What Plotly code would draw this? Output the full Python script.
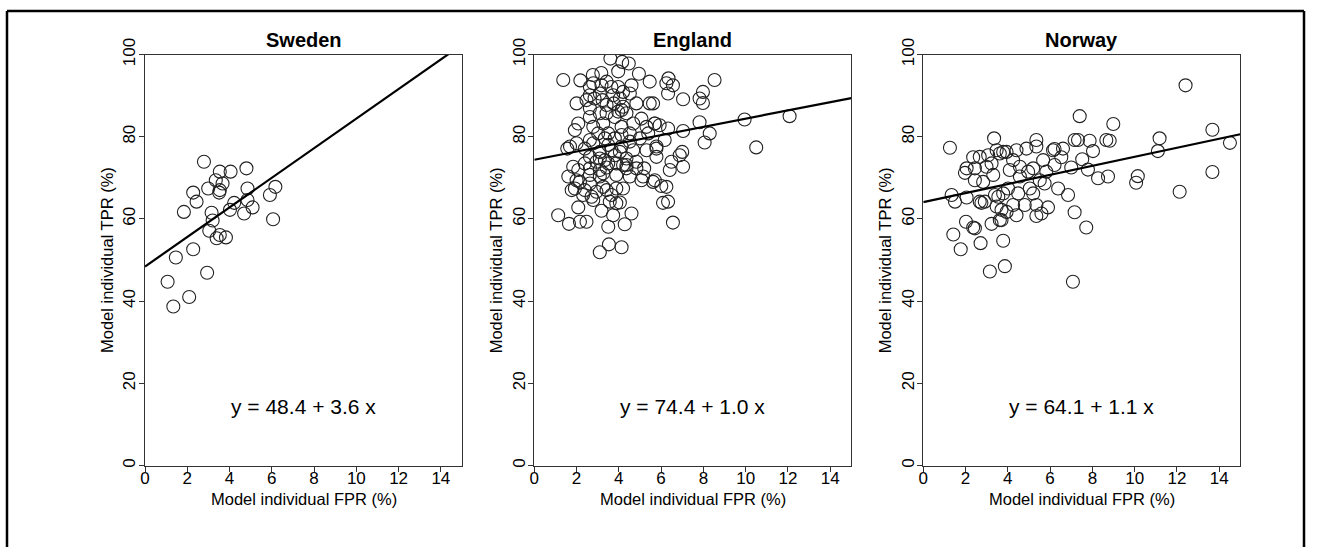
import plotly.graph_objects as go

W, H = 1319, 547

countries = ["Sweden", "England", "Norway"]
intercepts = [48.4, 74.4, 64.1]
slopes = [3.6, 1.0, 1.1]
equations = ["y = 48.4 + 3.6 x", "y = 74.4 + 1.0 x", "y = 64.1 + 1.1 x"]
x_ticks = [0, 2, 4, 6, 8, 10, 12, 14]
y_ticks = [0, 20, 40, 60, 80, 100]

sweden_fpr = [2.79, 3.54, 4.05, 4.80, 3.35, 3.67, 2.99, 3.54, 3.51, 2.28, 2.44, 4.85, 6.17, 5.91,
              4.85, 4.22, 4.02, 4.69, 5.09, 1.84, 3.15, 3.20, 6.06, 3.04, 3.39, 3.54, 3.83, 2.28,
              1.46, 2.94, 1.07, 2.09, 1.34]
sweden_tpr = [73.9, 71.5, 71.5, 72.3, 69.4, 68.6, 67.4, 67.0, 66.4, 66.4, 64.2, 67.4, 67.8, 65.8,
              64.6, 63.9, 62.2, 61.3, 62.8, 61.7, 61.5, 59.6, 59.9, 57.1, 55.3, 56.1, 55.5, 52.6,
              50.6, 46.9, 44.7, 41.0, 38.7]

england_fpr = [1.13, 1.64, 2.16, 2.47, 2.08, 3.10, 3.53, 4.13, 3.50, 4.28, 3.73, 4.60, 3.18, 4.05,
               3.65, 2.71, 1.92, 1.61, 2.16, 2.63, 3.26, 4.20, 5.07, 5.62, 2.08, 2.63, 3.10, 3.42,
               4.36, 4.83, 5.20, 1.56, 1.69, 2.39, 2.79, 3.10, 3.50, 3.02, 3.50, 3.81, 4.13, 4.52,
               5.00, 5.39, 5.70, 5.07, 1.92, 2.08, 2.63, 3.42, 3.97, 4.20, 2.00, 2.47, 2.85, 3.23,
               3.76, 4.83, 5.46, 2.63, 3.18, 3.65, 4.60, 5.46, 1.37, 2.63, 3.34, 3.81, 4.36, 4.83,
               3.50, 2.94, 4.05, 4.68, 5.31, 5.78, 2.39, 1.84, 3.10, 3.88, 4.52, 5.15, 4.20,
               8.53, 6.25, 6.56, 6.33, 7.04, 7.98, 7.82, 7.98, 5.62, 7.82, 8.30, 8.06, 9.95, 12.08,
               10.50, 7.04, 6.33, 5.93, 5.70, 6.17, 7.00, 6.88, 5.78, 5.78, 6.49, 7.04, 6.41, 5.70,
               6.01, 6.25, 6.09, 6.33, 6.56,
               3.60, 4.16, 4.47, 2.18, 2.77, 3.17, 3.97, 4.95, 6.35,
               2.79, 3.42, 3.97, 4.20, 3.10, 3.73, 2.63, 4.52, 4.05, 3.42, 4.13, 4.36, 2.63, 3.10,
               3.81, 3.26, 2.79, 4.13, 4.68, 5.31, 4.52, 3.34, 2.63, 2.00, 4.13, 3.65, 3.10, 3.88,
               4.36, 3.26, 2.63, 2.00, 1.77, 2.39, 2.94, 3.42, 3.88, 3.57, 3.88, 2.79, 2.31]
england_tpr = [60.9, 58.8, 59.3, 59.3, 62.8, 51.9, 53.8, 53.1, 58.1, 58.7, 60.9, 61.3, 62.0, 64.0,
               65.8, 65.4, 67.4, 70.3, 69.0, 68.6, 67.8, 67.4, 69.4, 69.0, 71.9, 72.3, 71.9, 72.5,
               72.3, 72.3, 72.3, 77.1, 77.6, 77.1, 78.4, 76.3, 78.0, 80.8, 80.8, 79.6, 80.4, 80.8,
               79.6, 80.8, 83.2, 84.4, 81.6, 83.2, 84.8, 85.7, 86.1, 87.3, 88.1, 88.9, 89.3, 88.9,
               88.1, 88.1, 88.1, 92.1, 92.5, 92.1, 92.5, 93.4, 93.8, 75.1, 74.3, 75.5, 74.7, 73.9,
               73.5, 73.9, 76.3, 76.7, 76.7, 77.6, 73.5, 72.7, 70.3, 70.7, 70.3, 70.3, 73.1,
               93.8, 93.0, 92.5, 90.5, 89.1, 90.9, 89.3, 88.2, 88.1, 83.5, 80.8, 78.6, 84.2, 85.0,
               77.4, 81.4, 82.0, 82.8, 83.2, 79.2, 76.3, 75.5, 77.1, 75.1, 73.9, 72.7, 71.9, 69.4,
               68.0, 67.8, 63.9, 64.2, 59.1,
               99.0, 98.2, 97.8, 93.7, 95.0, 95.5, 95.9, 95.3, 94.2,
               93.0, 93.4, 92.1, 90.9, 90.5, 90.1, 90.1, 90.5, 89.3, 87.7, 86.5, 85.7, 86.9, 85.7,
               84.8, 83.2, 82.4, 82.4, 83.2, 82.4, 78.8, 79.6, 79.2, 78.4, 77.6, 76.7, 74.7, 73.5,
               73.1, 71.1, 70.7, 69.4, 67.0, 67.0, 66.6, 67.0, 67.4, 64.2, 63.8, 64.6, 65.8]

norway_fpr = [1.26, 3.35, 1.34, 1.50, 2.05, 1.42, 1.77, 2.02, 2.36, 2.44, 2.71, 3.15, 3.23, 3.86,
              3.78, 3.62, 2.36, 2.67, 3.07, 2.05, 1.97, 2.44, 2.99, 2.44, 2.83, 3.31, 3.23, 3.62,
              3.78, 3.47, 3.55, 3.39, 2.91, 2.67, 2.75, 3.70, 3.47,
              7.40, 8.99, 11.18, 11.10, 10.15, 10.07, 7.16, 7.32, 7.87, 8.66, 8.82, 8.03, 7.52,
              7.79, 7.00, 6.53, 6.21, 6.61, 6.14, 8.27, 8.74, 6.38, 6.85, 7.16, 7.71, 7.08,
              5.35, 5.35, 4.88, 4.41, 3.94, 5.67, 5.20, 4.57, 4.25, 4.09, 4.57, 4.96, 5.82, 6.21,
              5.51, 5.04, 4.49, 4.01, 3.78, 5.20, 5.74, 5.35, 5.90, 4.80, 4.25, 3.94, 3.70, 4.41,
              5.35, 5.59,
              12.41, 13.68, 13.68, 14.51, 12.13]
norway_tpr = [77.3, 79.6, 65.8, 64.2, 65.2, 56.2, 52.6, 59.3, 57.9, 57.7, 54.1, 47.2, 58.8, 48.5,
              54.7, 59.7, 75.0, 75.1, 75.5, 72.3, 71.2, 72.3, 72.7, 69.4, 69.0, 70.7, 73.5, 75.9,
              76.3, 76.7, 65.4, 65.8, 64.2, 64.2, 63.9, 62.2, 63.0,
              85.0, 83.1, 79.6, 76.5, 70.4, 68.8, 79.2, 79.2, 79.0, 79.2, 79.0, 76.5, 74.5,
              72.0, 72.5, 75.0, 77.0, 77.1, 76.7, 69.9, 70.3, 67.4, 65.8, 61.6, 57.9, 44.7,
              79.2, 77.6, 77.1, 76.7, 76.3, 74.3, 72.3, 72.7, 74.3, 71.9, 70.3, 71.5, 71.5, 73.1,
              69.4, 67.4, 66.2, 67.4, 66.2, 66.2, 68.6, 63.4, 62.8, 63.4, 63.4, 61.7, 59.7, 60.9,
              60.7, 61.3,
              92.5, 81.7, 71.4, 78.5, 66.6]

fpr_data = [sweden_fpr, england_fpr, norway_fpr]
tpr_data = [sweden_tpr, england_tpr, norway_tpr]

# panel pixel geometry
panel_left = [145.0, 534.3, 923.3]
panel_width = 317.0
plot_top, plot_bottom = 54.5, 465.5
line_x = [0, 15]

FONT = "Liberation Sans, Arial, Helvetica, sans-serif"
fig = go.Figure()
layout = dict(width=W, height=H, margin=dict(l=0, r=0, t=0, b=0, autoexpand=False),
              paper_bgcolor="white", plot_bgcolor="white", showlegend=False,
              font=dict(family=FONT, color="black"))
annotations = []
for i in range(3):
    xa = "xaxis" if i == 0 else f"xaxis{i+1}"
    ya = "yaxis" if i == 0 else f"yaxis{i+1}"
    xr = "x" if i == 0 else f"x{i+1}"
    yr = "y" if i == 0 else f"y{i+1}"
    x0 = panel_left[i] / W
    x1 = (panel_left[i] + panel_width) / W
    layout[xa] = dict(domain=[x0, x1], range=[0, 15], anchor=yr, tickvals=x_ticks,
                      showline=True, mirror=True, linecolor="#333", linewidth=1,
                      ticks="outside", ticklen=5, tickcolor="#333", showgrid=False, zeroline=False,
                      tickfont=dict(size=17), automargin=False, ticklabelstandoff=-8)
    layout[ya] = dict(domain=[1 - plot_bottom / H, 1 - plot_top / H], range=[0, 100], anchor=xr,
                      tickvals=y_ticks, tickangle=-90,
                      showline=True, mirror=True, linecolor="#333", linewidth=1,
                      ticks="outside", ticklen=5, tickcolor="#333", showgrid=False, zeroline=False,
                      tickfont=dict(size=17), automargin=False, ticklabelstandoff=-3)
    fig.add_trace(go.Scatter(x=fpr_data[i], y=tpr_data[i], mode="markers", xaxis=xr, yaxis=yr,
                             marker=dict(symbol="circle-open", size=13, color="#222",
                                         line=dict(width=1.1))))
    fig.add_trace(go.Scatter(x=line_x, y=[intercepts[i] + slopes[i] * v for v in line_x],
                             mode="lines", xaxis=xr, yaxis=yr,
                             line=dict(color="black", width=2.2)))
    annotations.append(dict(text="<b>" + countries[i] + "</b>", x=(x0 + x1) / 2, y=1 - 40 / H,
                            xref="paper", yref="paper", showarrow=False,
                            font=dict(size=20), xanchor="center", yanchor="middle"))
    annotations.append(dict(text=equations[i], x=7.5, y=14.4, xref=xr, yref=yr, showarrow=False,
                            font=dict(size=21), xanchor="center", yanchor="middle"))
    annotations.append(dict(text="Model individual FPR (%)", x=(x0 + x1) / 2, y=1 - 499 / H,
                            xref="paper", yref="paper", showarrow=False,
                            font=dict(size=16.5), xanchor="center", yanchor="middle"))
    annotations.append(dict(text="Model individual TPR (%)", x=(panel_left[i] - 38) / W,
                            y=1 - (plot_top + plot_bottom) / 2 / H, textangle=-90,
                            xref="paper", yref="paper", showarrow=False,
                            font=dict(size=16.5), xanchor="center", yanchor="middle"))
layout["annotations"] = annotations
layout["shapes"] = [
    dict(type="line", xref="paper", yref="paper", x0=7 / W, x1=1304 / W, y0=1 - 11 / H, y1=1 - 11 / H,
         line=dict(color="black", width=2.5)),
    dict(type="line", xref="paper", yref="paper", x0=7 / W, x1=7 / W, y0=1 - 11 / H, y1=0,
         line=dict(color="black", width=2.5)),
    dict(type="line", xref="paper", yref="paper", x0=1304 / W, x1=1304 / W, y0=1 - 11 / H, y1=0,
         line=dict(color="black", width=2.5)),
]
fig.update_layout(**layout)
fig.write_html("out.html")
